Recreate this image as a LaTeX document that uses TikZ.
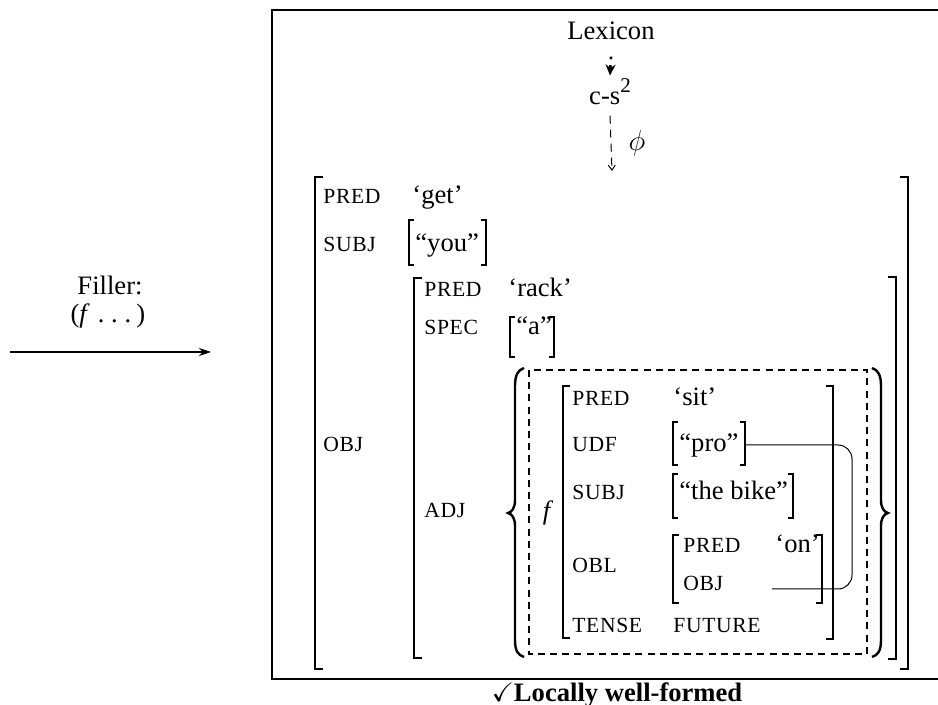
\documentclass[tikz,border=0pt]{standalone}
\usepackage{fontspec}
\usepackage{amssymb}
\setmainfont{Liberation Serif}
\usetikzlibrary{arrows.meta}
\newcommand{\LB}[4]{\draw[brk] ({#1+#4},#2) -- (#1,#2) -- (#1,#3) -- ({#1+#4},#3);}
\newcommand{\RB}[4]{\draw[brk] ({#1-#4},#2) -- (#1,#2) -- (#1,#3) -- ({#1-#4},#3);}
\begin{document}
\begin{tikzpicture}[x=0.5pt,y=-0.5pt,
  brk/.style={line width=0.6pt},
  txt/.style={inner sep=0pt, anchor=base west, font=\fontsize{13.3}{16}\selectfont},
  att/.style={inner sep=0pt, anchor=base west, font=\fontsize{10.8}{12}\selectfont\addfontfeatures{LetterSpace=3}},
  ctr/.style={inner sep=0pt, anchor=base, font=\fontsize{13.3}{16}\selectfont},
  dsh/.style={line width=0.9pt, dash pattern=on 3.5pt off 2.6pt},
  brace/.style={line width=1.2pt}]
\useasboundingbox (0,0) rectangle (938,705);
% frame
\draw[line width=1.2pt] (938,10) -- (272,10) -- (272,679) -- (938,679);
% top
\node[ctr] (lex) at (611,40) {Lexicon};
\node[ctr] (cs) at (610,105) {c-s\raisebox{1ex}{\fontsize{10.5}{10}\selectfont 2}};
\node[inner sep=0pt, font=\fontsize{13.3}{16}\selectfont] (phi) at (637,143) {$\phi$};
\coordinate (avmtop) at (612,171);
\draw[line width=1.3pt, dash pattern=on 1.3pt off 3pt, -{Stealth[length=5.5pt,width=5pt]}] ([yshift=-8pt]lex.south) -- ([yshift=1.5pt]cs.north);
\draw[line width=0.5pt, dash pattern=on 4pt off 3pt, -{Straight Barb[length=2.5pt,width=3.5pt]}] ([yshift=-5pt]cs.south) -- (avmtop);
% filler
\node[ctr] (fill1) at (110,295) {Filler:};
\node[ctr] (fill2) at (108,323) {(\textit{f}\kern0.3em.\kern0.25em.\kern0.25em.\kern0.2em)};
\coordinate (fa) at (10,352);
\coordinate (fb) at (211,352);
\draw[line width=0.7pt, -{Stealth[length=6pt,width=4pt]}] (fa) -- (fb);
% outer AVM
\LB{315}{177}{669}{8}
\RB{908}{177}{669}{8}
\node[att] (p1) at (323,204) {PRED};
\node[txt] (get) at (412,204) {‘get’};
\node[att] (s1) at (323,252) {SUBJ};
\LB{409}{220}{265}{5}\RB{486}{220}{265}{5}
\node[txt] (you) at (415,252) {“you”};
\node[att] (o1) at (323,452) {OBJ};
% OBJ AVM
\LB{414}{278}{658}{8}
\RB{896}{277}{659}{8}
\node[att] (p2) at (424,297) {PRED};
\node[txt] (rack) at (508,297) {‘rack’};
\node[att] (sp) at (424,335) {SPEC};
\LB{510}{317}{357}{5}\RB{554}{317}{357}{5}
\node[txt] (a) at (516,335) {“a”};
\node[att] (adj) at (424,518) {ADJ};
% braces
\draw[brace] (524,368) .. controls (518,370) and (515,375) .. (515,386) -- (515,500) .. controls (515,508) and (512,512) .. (508,513) .. controls (512,514) and (515,518) .. (515,526) -- (515,640) .. controls (515,651) and (518,655) .. (524,657);
\draw[brace] (872,368) .. controls (878,370) and (881,375) .. (881,386) -- (881,500) .. controls (881,508) and (884,512) .. (888,513) .. controls (884,514) and (881,518) .. (881,526) -- (881,640) .. controls (881,651) and (878,655) .. (872,657);
\draw[dsh] (529,370) rectangle (867,654);
% f AVM
\node[inner sep=0pt, font=\fontsize{13.3}{16}\selectfont] (f) at (548,513) {\textit{f}};
\LB{563}{386}{638}{7}
\RB{833}{386}{639}{7}
\node[att] (p3) at (572,406) {PRED};
\node[txt] (sit) at (673,406) {‘sit’};
\node[att] (udf) at (572,452) {UDF};
\LB{673}{422}{465}{5}\RB{745}{422}{465}{5}
\node[txt] (pro) at (679,452) {“pro”};
\node[att] (s3) at (572,500) {SUBJ};
\LB{673}{474}{518}{5}\RB{793}{474}{518}{5}
\node[txt] (bike) at (679,500) {“the bike”};
\node[att] (obl) at (572,573) {OBL};
\LB{673}{535}{603}{6}\RB{822}{535}{603}{6}
\node[att] (p4) at (683,553) {PRED};
\node[txt] (on) at (775,553) {‘on’};
\node[att] (o4) at (683,591) {OBJ};
\node[att] (tense) at (572,633) {TENSE};
\node[att] (fut) at (673,633) {FUTURE};
% connector
\coordinate (proend) at (745,445);
\coordinate (objend) at (772,589);
\draw[line width=0.5pt, rounded corners=7pt] (proend) -- (852,445) -- (852,589) -- (objend);
% label
\node[ctr] (ok) at (617,702) {$\checkmark$\textbf{Locally well-formed}};
\end{tikzpicture}
\end{document}
